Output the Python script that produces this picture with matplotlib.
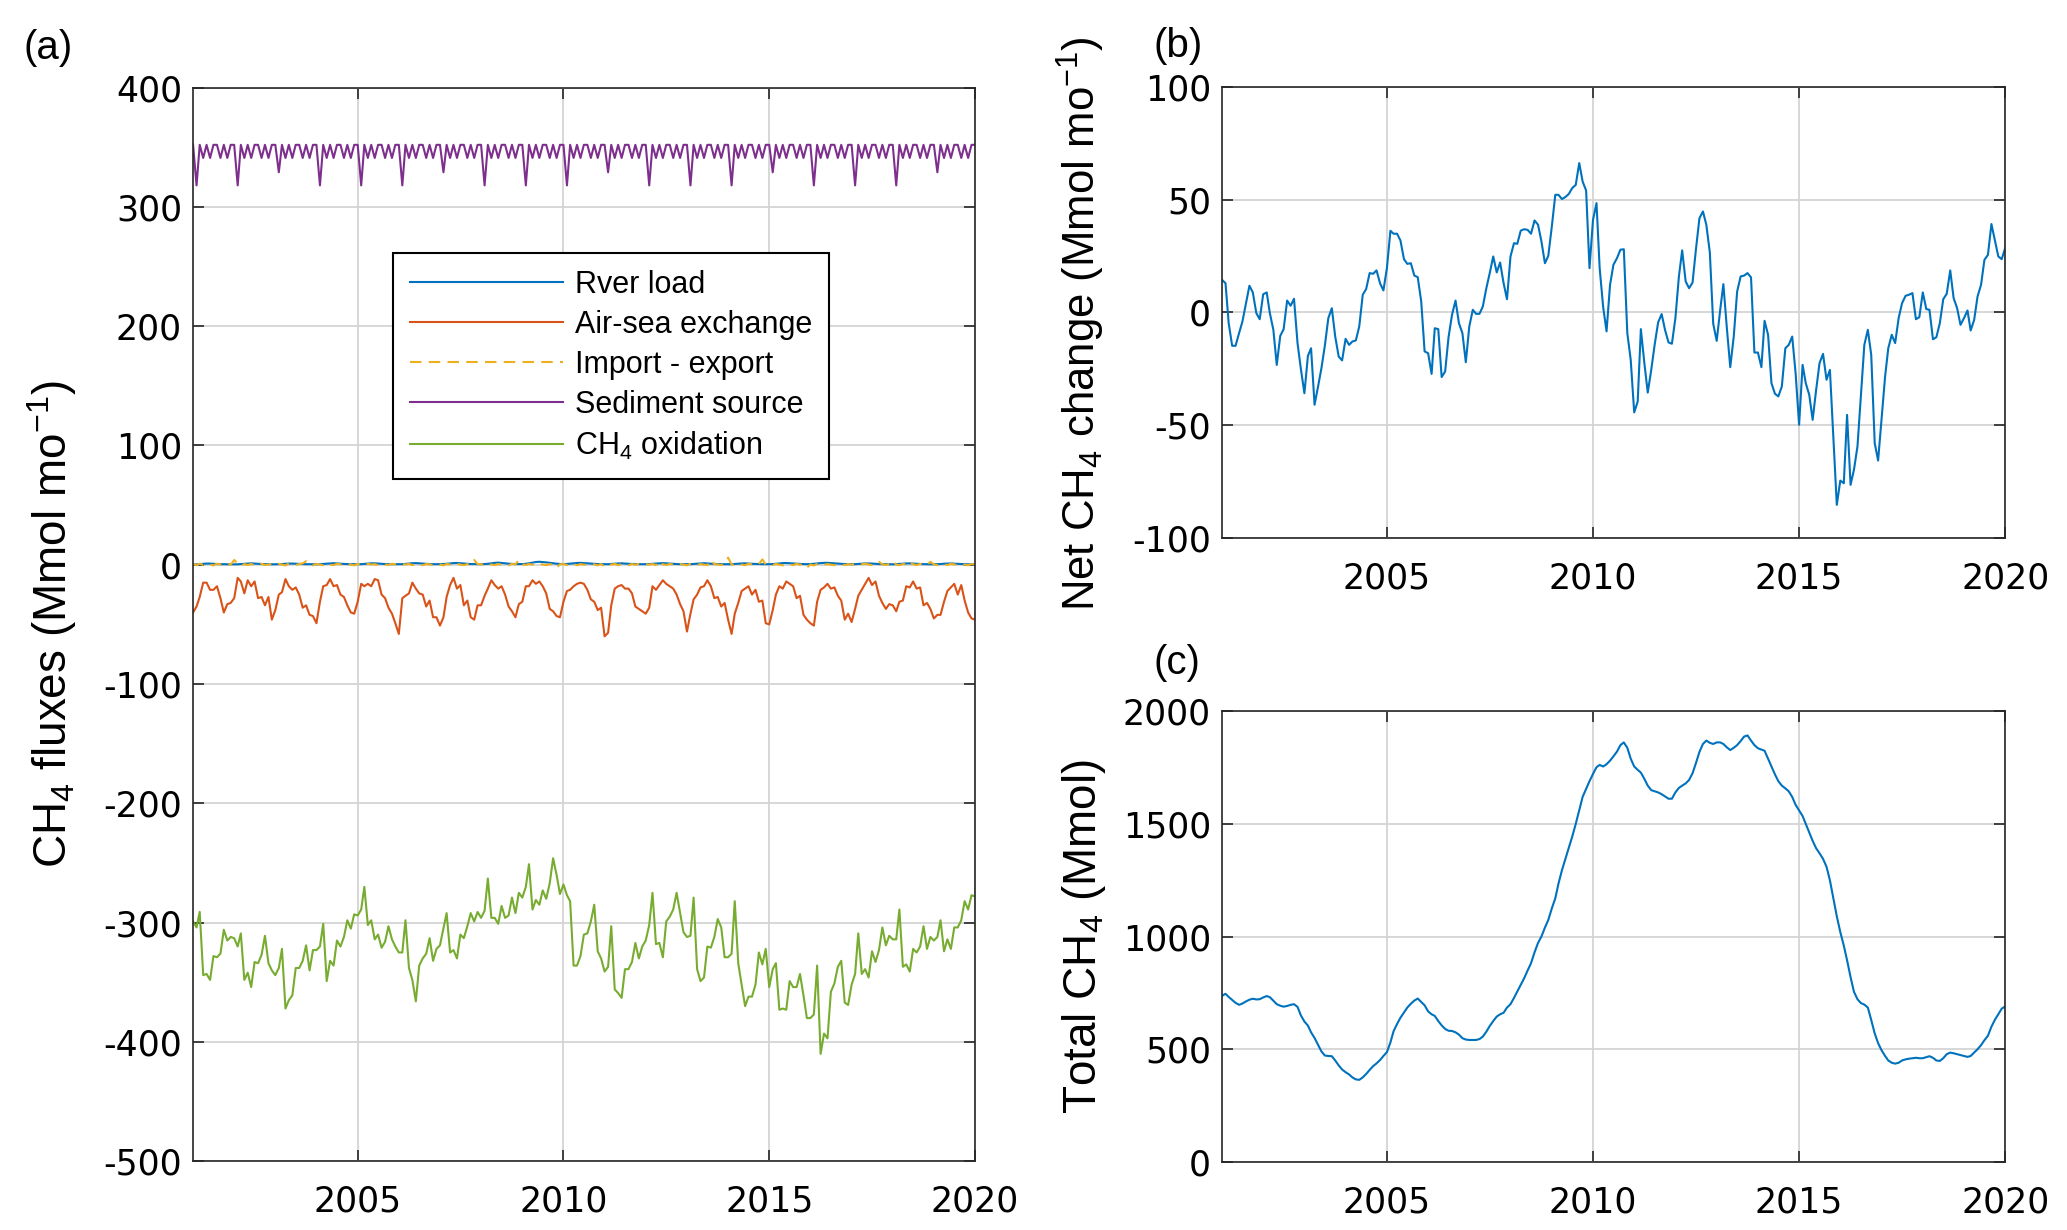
import matplotlib
matplotlib.use('Agg')
import matplotlib.pyplot as plt
import numpy as np
import pandas as pd
from datetime import datetime

plt.rcParams['mathtext.default'] = 'regular'
plt.rcParams['font.family'] = ['Liberation Sans', 'DejaVu Sans']

# ---------------- data (monthly, Jan 2001 .. Jan 2020) ----------------
months = pd.date_range('2001-01-01', '2020-01-01', freq='MS')

river_load = [
    0.3, 0.3, 0.5, 0.8, 1.0, 1.0, 0.8, 0.6, 0.5, 0.5, 0.4, 0.4,
    0.4, 0.4, 0.6, 0.9, 1.1, 1.2, 1.0, 0.8, 0.6, 0.5, 0.5, 0.4,
    0.4, 0.5, 0.6, 0.8, 1.0, 1.0, 0.9, 0.7, 0.6, 0.5, 0.5, 0.4,
    0.4, 0.5, 0.7, 0.9, 1.2, 1.3, 1.1, 0.9, 0.7, 0.6, 0.5, 0.5,
    0.5, 0.5, 0.7, 1.0, 1.2, 1.2, 1.0, 0.8, 0.6, 0.5, 0.5, 0.5,
    0.5, 0.5, 0.7, 1.0, 1.3, 1.4, 1.2, 0.9, 0.7, 0.6, 0.5, 0.5,
    0.5, 0.6, 0.8, 1.1, 1.4, 1.5, 1.3, 1.0, 0.8, 0.6, 0.6, 0.5,
    0.5, 0.6, 0.8, 1.2, 1.6, 1.8, 1.5, 1.2, 0.9, 0.7, 0.6, 0.6,
    0.6, 0.8, 1.2, 1.8, 2.3, 2.5, 2.3, 2.0, 1.6, 1.2, 0.9, 0.7,
    0.6, 0.7, 0.9, 1.2, 1.5, 1.6, 1.4, 1.1, 0.9, 0.7, 0.6, 0.6,
    0.5, 0.5, 0.7, 0.9, 1.1, 1.2, 1.0, 0.8, 0.7, 0.6, 0.5, 0.5,
    0.5, 0.6, 0.8, 1.1, 1.3, 1.4, 1.2, 1.0, 0.8, 0.6, 0.5, 0.5,
    0.5, 0.5, 0.7, 1.0, 1.2, 1.3, 1.1, 0.9, 0.7, 0.6, 0.5, 0.5,
    0.5, 0.5, 0.7, 0.9, 1.1, 1.2, 1.0, 0.8, 0.7, 0.6, 0.5, 0.5,
    0.5, 0.6, 0.8, 1.1, 1.4, 1.5, 1.3, 1.0, 0.8, 0.7, 0.6, 0.5,
    0.6, 0.8, 1.1, 1.4, 1.6, 1.6, 1.4, 1.1, 0.9, 0.7, 0.6, 0.5,
    0.5, 0.5, 0.7, 0.9, 1.1, 1.1, 1.0, 0.8, 0.6, 0.5, 0.5, 0.4,
    0.4, 0.5, 0.7, 0.9, 1.1, 1.2, 1.0, 0.8, 0.7, 0.5, 0.5, 0.4,
    0.4, 0.5, 0.6, 0.9, 1.0, 1.1, 0.9, 0.8, 0.6, 0.5, 0.4, 0.4,
    0.4,
]

air_sea = [
    -40, -35, -27, -15, -15, -21, -21, -18, -28, -40, -33, -32,
    -28, -11, -14, -24, -13, -18, -14, -28, -27, -34, -27, -46,
    -38, -25, -23, -12, -18, -21, -19, -25, -36, -34, -42, -43,
    -49, -31, -18, -17, -12, -18, -17, -25, -27, -34, -40, -41,
    -31, -16, -18, -16, -18, -12, -13, -25, -28, -36, -41, -49,
    -58, -28, -26, -24, -15, -20, -24, -25, -35, -30, -44, -44,
    -51, -44, -27, -17, -11, -20, -17, -34, -30, -44, -46, -34,
    -34, -26, -20, -13, -17, -20, -18, -25, -35, -39, -44, -33,
    -31, -18, -18, -13, -16, -14, -18, -24, -37, -39, -43, -44,
    -31, -22, -21, -18, -16, -15, -16, -21, -29, -31, -38, -36,
    -60, -57, -34, -20, -18, -17, -20, -20, -24, -35, -37, -39,
    -41, -36, -18, -21, -17, -13, -16, -18, -20, -25, -33, -39,
    -56, -41, -29, -25, -19, -18, -13, -18, -28, -27, -35, -32,
    -46, -58, -41, -32, -22, -20, -18, -25, -21, -31, -30, -49,
    -50, -38, -25, -18, -20, -14, -16, -18, -28, -26, -42, -46,
    -49, -51, -31, -21, -19, -16, -20, -19, -26, -30, -46, -41,
    -48, -37, -26, -21, -16, -11, -17, -14, -26, -32, -37, -33,
    -34, -39, -31, -30, -18, -19, -14, -20, -19, -34, -32, -37,
    -45, -42, -42, -31, -22, -19, -16, -25, -17, -30, -40, -45,
    -46,
]

import_export = [
    0.8, -0.5, 1.0, -0.3, 0.5, 0.2, -0.6, 0.9, 0.3, -0.4, 0.6, 0.1,
    4.0, 1.0, -0.8, 0.5, -0.2, 0.7, -0.5, 0.3, 0.9, -0.3, 0.2, 0.6,
    -0.4, 0.8, 0.1, -0.6, 1.0, 0.3, -0.2, 0.5, 1.2, 3.0, 0.2, -0.5,
    0.6, 0.2, -0.4, 0.9, 0.0, -0.3, 0.8, 0.4, -0.2, 0.6, 0.1, -0.5,
    0.7, 0.3, -0.3, 0.8, 0.2, 0.5, -0.4, 0.6, 0.1, -0.2, 0.9, 0.3,
    -0.5, 0.4, 0.2, 0.7, -0.3, 0.5, 0.1, -0.4, 0.6, 0.3, -0.2, 0.8,
    0.2, -0.5, 0.6, 0.3, -0.2, 0.9, 0.1, -0.3, 0.5, 0.2, 4.0, 0.6,
    0.5, -0.4, 0.7, 0.2, -0.3, 0.6, 0.0, 0.4, -0.5, 0.8, 0.3, 4.0,
    0.3, -0.2, 0.6, 0.1, -0.4, 0.7, 0.2, -0.3, 0.5, 0.0, -2.5, 0.4,
    0.6, -0.3, 0.2, 0.8, -0.4, 0.5, 0.1, -0.2, 0.7, 0.3, -0.5, 0.6,
    -1.6, 0.4, 0.1, 0.7, -0.3, 0.5, 0.2, -0.4, 0.6, 0.0, 0.8, -0.2,
    0.5, 0.1, 0.6, -0.3, 3.0, 0.4, -0.2, 0.7, 0.2, -0.4, 0.6, 0.1,
    -0.5, 0.8, 0.3, -0.2, 0.6, 0.1, -0.4, 4.0, 0.5, 0.2, -0.3, 0.7,
    6.0, 0.3, -0.2, 0.6, 0.1, -0.4, 0.8, 0.3, -0.2, 0.6, 4.5, 0.2,
    0.4, -0.3, 0.7, 0.1, -0.5, 0.6, 0.2, -0.3, 0.8, 0.0, 0.5, -2.4,
    0.2, -0.6, 0.7, 0.3, -0.2, 0.6, 0.1, -0.4, 0.8, 0.2, -0.3, 0.5,
    0.1, 0.7, -0.2, 0.4, 0.9, 0.2, -0.3, 0.6, 2.5, 0.3, -0.2, 0.7,
    3.0, 0.2, -0.4, 0.6, 0.1, 2.5, 0.4, -0.3, 0.7, 0.2, -0.2, 2.5,
    0.3, -0.4, 0.6, 0.1, -0.2, 0.8, 0.3, -0.3, 0.5, 0.1, -0.4, 0.6,
    0.2,
]

sediment_source = [
    352, 318, 352, 341, 352, 341, 352, 352, 341, 352, 341, 352,  # 2001
    352, 318, 352, 341, 352, 341, 352, 352, 341, 352, 341, 352,  # 2002
    352, 329, 352, 341, 352, 341, 352, 352, 341, 352, 341, 352,  # 2003
    352, 318, 352, 341, 352, 341, 352, 352, 341, 352, 341, 352,  # 2004
    352, 318, 352, 341, 352, 341, 352, 352, 341, 352, 341, 352,  # 2005
    352, 318, 352, 341, 352, 341, 352, 352, 341, 352, 341, 352,  # 2006
    352, 329, 352, 341, 352, 341, 352, 352, 341, 352, 341, 352,  # 2007
    352, 318, 352, 341, 352, 341, 352, 352, 341, 352, 341, 352,  # 2008
    352, 318, 352, 341, 352, 341, 352, 352, 341, 352, 341, 352,  # 2009
    352, 318, 352, 341, 352, 341, 352, 352, 341, 352, 341, 352,  # 2010
    352, 329, 352, 341, 352, 341, 352, 352, 341, 352, 341, 352,  # 2011
    352, 318, 352, 341, 352, 341, 352, 352, 341, 352, 341, 352,  # 2012
    352, 318, 352, 341, 352, 341, 352, 352, 341, 352, 341, 352,  # 2013
    352, 318, 352, 341, 352, 341, 352, 352, 341, 352, 341, 352,  # 2014
    352, 329, 352, 341, 352, 341, 352, 352, 341, 352, 341, 352,  # 2015
    352, 318, 352, 341, 352, 341, 352, 352, 341, 352, 341, 352,  # 2016
    352, 318, 352, 341, 352, 341, 352, 352, 341, 352, 341, 352,  # 2017
    352, 318, 352, 341, 352, 341, 352, 352, 341, 352, 341, 352,  # 2018
    352, 329, 352, 341, 352, 341, 352, 352, 341, 352, 341, 352,  # 2019
    352,
]

ch4_oxidation = [
    -299, -304, -291, -344, -343, -348, -328, -329, -326, -306, -315, -312,
    -313, -320, -309, -348, -342, -354, -333, -334, -327, -311, -334, -340,
    -344, -338, -322, -372, -365, -361, -338, -338, -332, -319, -340, -323,
    -323, -320, -301, -349, -332, -336, -315, -320, -312, -298, -305, -293,
    -294, -289, -270, -302, -298, -314, -310, -321, -316, -303, -314, -320,
    -325, -325, -298, -338, -348, -366, -336, -330, -326, -313, -332, -322,
    -319, -305, -292, -325, -323, -330, -310, -313, -303, -292, -299, -291,
    -296, -290, -263, -296, -296, -301, -286, -296, -294, -279, -292, -275,
    -279, -270, -251, -289, -281, -285, -273, -280, -267, -246, -260, -276,
    -268, -277, -282, -336, -336, -328, -310, -309, -299, -285, -324, -330,
    -341, -337, -303, -356, -359, -363, -339, -339, -333, -317, -330, -320,
    -315, -302, -275, -318, -317, -329, -299, -295, -289, -275, -292, -308,
    -312, -311, -279, -339, -349, -346, -320, -321, -312, -297, -304, -329,
    -329, -326, -282, -334, -352, -370, -362, -362, -352, -325, -335, -322,
    -354, -339, -334, -373, -372, -373, -349, -354, -354, -343, -361, -380,
    -380, -377, -336, -410, -393, -397, -358, -351, -337, -332, -367, -369,
    -352, -343, -309, -343, -339, -346, -324, -333, -323, -304, -319, -311,
    -314, -314, -289, -337, -335, -341, -322, -325, -320, -303, -322, -312,
    -315, -312, -298, -324, -314, -322, -304, -304, -298, -282, -289, -277,
    -278,
]

net_change = [
    14.5, 13.0, -4.7, -14.8, -14.8, -9.2, -4.0, 3.9, 11.9, 8.9, -0.3, -3.0,
    8.1, 8.9, -0.3, -7.7, -23.3, -10.4, -7.4, 5.3, 3.0, 6.1, -13.6, -25.2,
    -35.9, -19.3, -15.9, -41.0, -33.2, -24.7, -14.8, -2.5, 1.9, -10.7, -19.6, -21.3,
    -11.7, -14.4, -12.9, -12.4, -6.2, 7.9, 10.4, 17.5, 17.2, 18.7, 13.0, 9.8,
    19.7, 36.3, 35.0, 35.0, 32.0, 23.7, 21.6, 21.9, 16.4, 15.7, 4.9, -17.3,
    -18.1, -27.3, -7.0, -7.4, -28.7, -26.2, -11.0, -1.0, 5.3, -4.7, -9.2, -22.1,
    -6.2, 1.2, -0.6, -0.6, 2.7, 10.8, 17.5, 24.9, 17.8, 22.2, 13.0, 5.9,
    24.9, 30.8, 30.5, 36.4, 37.0, 36.7, 35.0, 40.9, 39.0, 31.6, 21.9, 25.2,
    38.2, 52.3, 52.3, 50.4, 51.3, 52.7, 55.3, 56.7, 66.4, 58.2, 54.2, 19.7,
    41.2, 48.6, 19.7, 2.4, -8.4, 12.3, 21.2, 24.1, 27.9, 28.1, -9.2, -21.0,
    -44.4, -39.6, -7.4, -22.5, -35.6, -25.5, -14.4, -4.4, -0.7, -7.7, -13.3, -13.9,
    -2.5, 16.0, 27.6, 13.8, 10.8, 13.3, 28.1, 41.9, 44.9, 39.0, 26.7, -5.0,
    -12.6, 1.2, 12.6, -7.0, -24.3, -10.7, 9.3, 16.0, 16.4, 17.5, 15.6, -17.8,
    -17.8, -24.3, -3.7, -9.9, -31.4, -36.1, -37.3, -32.9, -15.9, -14.4, -10.7, -27.0,
    -49.9, -23.3, -31.4, -36.6, -47.7, -34.4, -22.5, -18.4, -29.9, -25.5, -55.9, -85.5,
    -74.7, -75.9, -45.5, -76.6, -69.9, -59.6, -37.3, -14.4, -7.7, -18.8, -58.1, -65.8,
    -47.0, -28.4, -15.9, -9.9, -13.6, -2.5, 4.1, 7.4, 7.9, 8.6, -3.0, -2.1,
    8.9, 1.5, 1.2, -11.9, -11.0, -4.7, 5.9, 8.3, 18.7, 6.4, 1.9, -5.5,
    -2.5, 0.9, -8.0, -3.3, 7.1, 12.3, 23.4, 25.6, 39.3, 32.3, 24.9, 23.7,
    28.6,
]

total_ch4 = [
    737, 746, 732, 719, 706, 697, 703, 712, 720, 724, 721, 722,
    730, 736, 731, 715, 700, 693, 689, 692, 697, 700, 688, 650,
    623, 605, 575, 550, 520, 490, 472, 470, 469, 450, 428, 410,
    398, 388, 375, 366, 364, 375, 390, 408, 425, 437, 452, 470,
    487, 530, 580, 612, 640, 663, 685, 702, 716, 725, 710, 695,
    668, 655, 648, 625, 606, 590, 582, 581, 575, 565, 549, 543,
    541, 541, 541, 545, 556, 578, 603, 625, 645, 655, 662, 685,
    700, 728, 756, 785, 815, 850, 882, 930, 972, 1000, 1040, 1074,
    1125, 1170, 1235, 1295, 1345, 1395, 1444, 1500, 1560, 1620, 1655, 1690,
    1722, 1752, 1762, 1755, 1765, 1781, 1800, 1821, 1850, 1862, 1838, 1790,
    1755, 1740, 1728, 1700, 1670, 1650, 1645, 1640, 1632, 1622, 1612, 1612,
    1640, 1660, 1670, 1680, 1695, 1725, 1770, 1820, 1855, 1870, 1860, 1855,
    1862, 1862, 1855, 1840, 1828, 1838, 1850, 1868, 1888, 1893, 1870, 1850,
    1836, 1830, 1825, 1790, 1755, 1720, 1690, 1670, 1658, 1645, 1620, 1585,
    1560, 1535, 1500, 1460, 1425, 1392, 1370, 1345, 1310, 1250, 1170, 1090,
    1020, 960, 895, 820, 755, 722, 705, 698, 685, 630, 570, 527,
    495, 470, 450, 440, 436, 440, 450, 455, 458, 460, 462, 460,
    460, 465, 469, 462, 450, 448, 460, 478, 485, 482, 478, 474,
    470, 466, 470, 485, 500, 518, 540, 560, 600, 630, 655, 680,
    690,
]

year_ticks = [2005, 2010, 2015, 2020]
flux_labels = ['Rver load', 'Air-sea exchange', 'Import - export',
               'Sediment source', 'CH$_4$ oxidation']

# ---------------- styling ----------------
C_BLUE = '#0072BD'
C_ORANGE = '#D95319'
C_YELLOW = '#EDB120'
C_PURPLE = '#7E2F8E'
C_GREEN = '#77AC30'
AXCOL = '#262626'
GRID = '#d4d4d4'

fig = plt.figure(figsize=(20.67, 12.30), dpi=100)
axA = fig.add_axes([0.0934, 0.0559, 0.3783, 0.8729])
axB = fig.add_axes([0.5912, 0.5630, 0.3789, 0.3659])
axC = fig.add_axes([0.5912, 0.0554, 0.3789, 0.3663])

LW = 1.5
axA.plot(months, river_load, color=C_BLUE, lw=LW, label=flux_labels[0])
axA.plot(months, air_sea, color=C_ORANGE, lw=LW, label=flux_labels[1])
axA.plot(months, import_export, color=C_YELLOW, lw=LW, linestyle=(0, (5.5, 3.5)),
         label=flux_labels[2])
axA.plot(months, sediment_source, color=C_PURPLE, lw=LW, label=flux_labels[3])
axA.plot(months, ch4_oxidation, color=C_GREEN, lw=LW, label=flux_labels[4])

axB.plot(months, net_change, color=C_BLUE, lw=LW)
axC.plot(months, total_ch4, color=C_BLUE, lw=LW)

xt = [datetime(y, 1, 1) for y in year_ticks]
for ax, yt in ((axA, np.arange(-500, 401, 100)),
               (axB, np.arange(-100, 101, 50)),
               (axC, np.arange(0, 2001, 500))):
    ax.set_xlim(datetime(2001, 1, 1), datetime(2020, 1, 1))
    ax.set_ylim(yt[0], yt[-1])
    ax.set_xticks(xt)
    ax.set_xticklabels([str(y) for y in year_ticks])
    ax.set_yticks(yt)
    ax.set_yticklabels([str(int(v)) for v in yt])
    ax.set_axisbelow(True)
    ax.grid(True, color=GRID, linewidth=1.3)
    ax.tick_params(direction='in', top=True, right=True, length=8, width=1.2,
                   colors=AXCOL, labelsize=25)
    ax.tick_params(axis='x', pad=17)
    ax.tick_params(axis='y', pad=8)
    for lbl in ax.get_xticklabels() + ax.get_yticklabels():
        lbl.set_fontfamily('DejaVu Sans')
        lbl.set_color('black')
    for sp in ax.spines.values():
        sp.set_linewidth(1.2)
        sp.set_color(AXCOL)

axA.set_ylabel('CH$_4$ fluxes (Mmol mo$^{-1}$)', fontsize=33, va='baseline')
axA.yaxis.set_label_coords(-0.1618, 0.5)
axB.set_ylabel('Net CH$_4$ change (Mmol mo$^{-1}$)', fontsize=31.5, va='baseline')
axB.yaxis.set_label_coords(-0.1614, 0.475)
axC.set_ylabel('Total CH$_4$ (Mmol)', fontsize=33, va='baseline')
axC.yaxis.set_label_coords(-0.1614, 0.5)

leg = axA.legend(loc='upper left', bbox_to_anchor=(0.2556, 0.846), fontsize=22,
                 frameon=True, fancybox=False, framealpha=1, edgecolor='black',
                 handlelength=5.0, handletextpad=0.42, borderpad=0.55,
                 labelspacing=0.33, borderaxespad=0)
leg.get_frame().set_linewidth(1.5)

fig.text(24 / 2067, 1 - 48 / 1230, '(a)', fontsize=29, ha='left', va='center')
fig.text(1153 / 2067, 1 - 46 / 1230, '(b)', fontsize=29, ha='left', va='center')
fig.text(1153 / 2067, 1 - 663 / 1230, '(c)', fontsize=29, ha='left', va='center')

fig.savefig('out.png', dpi=100, facecolor='white')
